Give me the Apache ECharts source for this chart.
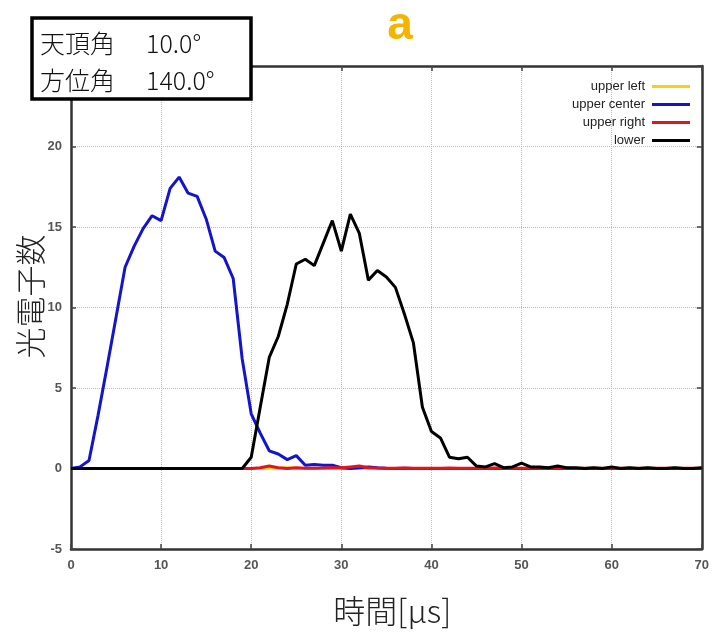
<!DOCTYPE html>
<html><head><meta charset="utf-8">
<script src="https://cdn.jsdelivr.net/npm/echarts@6/dist/echarts.min.js"></script>
<style>html,body{margin:0;padding:0;background:#fff}#c{width:712px;height:635px}</style>
</head><body><div id="c"></div>
<script>
const time = Array.from({length:71},(_,i)=>i);
const upperLeft = [0,0,0,0,0,0,0,0,0,0, 0,0,0,0,0,0,0,0,0,0, 0,0,0.02,0.03,0.05,0.02,0,0,0,0, 0,0,0,0,0,0,0,0,0,0, 0,0,0,0,0,0,0,0,0,0, 0,0,0,0,0,0,0,0,0,0, 0,0,0,0,0,0,0,0,0,0, 0];
const upperCenter = [0,0.1,0.5,3.3,6.3,9.4,12.5,13.8,14.9,15.7, 15.4,17.4,18.1,17.1,16.9,15.5,13.5,13.1,11.8,6.8, 3.4,2.2,1.1,0.9,0.55,0.8,0.2,0.25,0.2,0.2, 0.05,0,0.05,0.1,0.05,0.02,0,0.02,0,0, 0,0,0,0,0,0,0,0,0,0, 0,0,0,0,0,0,0,0,0,0, 0,0,0,0,0,0,0,0,0,0, 0];
const upperRight = [0,0,0,0,0,0,0,0,0,0, 0,0,0,0,0,0,0,0,0,0, 0,0.05,0.15,0.05,0,0.05,0.02,0.02,0.03,0.05, 0.05,0.1,0.15,0.05,0.03,0.02,0.02,0.03,0.02,0.02, 0.02,0.02,0.03,0.02,0.02,0.02,0.02,0.03,0.02,0.02, 0.02,0.02,0.02,0.02,0.02,0.02,0.02,0.02,0.02,0.02, 0.02,0.02,0.02,0.02,0.02,0.02,0.02,0.02,0.02,0.02, 0.02];
const lower = [0,0,0,0,0,0,0,0,0,0, 0,0,0,0,0,0,0,0,0,0, 0.7,3.8,6.9,8.2,10.2,12.7,13.0,12.6,14.0,15.4, 13.5,15.8,14.6,11.7,12.3,11.9,11.25,9.6,7.8,3.8, 2.3,1.9,0.7,0.6,0.7,0.15,0.1,0.3,0.05,0.1, 0.33,0.1,0.1,0.05,0.15,0.05,0.05,0,0.05,0, 0.1,0,0.05,0,0.05,0,0,0.05,0,0, 0.05];
const seriesNames = ['upper left','upper center','upper right','lower'];
const seriesColors = ['#f2d01c','#1414cc','#e3141c','#000000'];
const seriesValues = [upperLeft, upperCenter, upperRight, lower];
const xTicks = [0,10,20,30,40,50,60,70];
const yTicks = [-5,0,5,10,15,20,25];

const chart = echarts.init(document.getElementById('c'));
const axisFont = {fontFamily:'Liberation Sans, Arial, sans-serif', fontSize:13, fontWeight:'bold', color:'#555'};
const jpFont = '"Noto Sans CJK JP", sans-serif';
const frame = {show:true, onZero:false, lineStyle:{color:'#333', width:2.5}};
const ticks = {show:true, inside:true, length:5, lineStyle:{color:'#444', width:1.5}};
chart.setOption({
  animation:false,
  backgroundColor:'#fff',
  grid:{left:71, right:9, top:66, bottom:86},
  legend:{
    data:seriesNames, orient:'vertical', align:'right', right:17, top:75,
    itemWidth:38, itemHeight:3, itemGap:5, icon:'rect',
    textStyle:{fontFamily:'Liberation Sans, Arial, sans-serif', fontSize:13, color:'#222', padding:[0,2,0,0]}
  },
  xAxis:[{
    type:'value', min:xTicks[0], max:xTicks[xTicks.length-1], interval:10, position:'bottom',
    name:'時間[μs]', nameLocation:'middle', nameGap:46,
    nameTextStyle:{fontFamily:jpFont, fontSize:32, fontWeight:300, color:'#222', padding:[0,0,0,12]},
    axisLine:frame, axisTick:ticks,
    axisLabel:Object.assign({margin:10}, axisFont),
    splitLine:{show:true, lineStyle:{type:'dotted', color:'#bbb'}}
  },{
    type:'value', min:xTicks[0], max:xTicks[xTicks.length-1], interval:10, position:'top',
    axisLine:frame, axisTick:ticks,
    axisLabel:{show:false}, splitLine:{show:false}
  }],
  yAxis:[{
    type:'value', min:yTicks[0], max:yTicks[yTicks.length-1], interval:5, position:'left',
    name:'光電子数', nameLocation:'middle', nameGap:25, nameRotate:90, nameMoveOverlap:false,
    nameTextStyle:{fontFamily:jpFont, fontSize:31, fontWeight:300, color:'#222', padding:[0,0,0,22]},
    axisLine:frame, axisTick:ticks,
    axisLabel:Object.assign({margin:9}, axisFont),
    splitLine:{show:true, lineStyle:{type:'dotted', color:'#bbb'}}
  },{
    type:'value', min:yTicks[0], max:yTicks[yTicks.length-1], interval:5, position:'right',
    axisLine:frame, axisTick:ticks,
    axisLabel:{show:false}, splitLine:{show:false}
  }],
  series: seriesNames.map((n,k)=>({
    name:n, type:'line', showSymbol:false, symbol:'none',
    data: time.map((t,i)=>[t, seriesValues[k][i]]),
    lineStyle:{color:seriesColors[k], width:3}, itemStyle:{color:seriesColors[k]},
    z: 2+k
  })),
  graphic:[
    {type:'text', x:400, y:26, z:100, style:{text:'a', fill:'#f5b400', font:'bold 46px "Liberation Sans", Arial, sans-serif', textAlign:'center', textVerticalAlign:'middle'}},
    {type:'rect', z:100, shape:{x:32, y:18, width:219, height:81}, style:{fill:'#fff', stroke:'#000', lineWidth:3.5}},
    {type:'text', z:101, x:40, y:43, style:{text:'天頂角', fill:'#111', font:'300 25px "Noto Sans CJK JP", sans-serif', textVerticalAlign:'middle'}},
    {type:'text', z:101, x:146, y:43, style:{text:'10.0°', fill:'#111', font:'300 25px "Noto Sans CJK JP", sans-serif', textVerticalAlign:'middle'}},
    {type:'text', z:101, x:40, y:80, style:{text:'方位角', fill:'#111', font:'300 25px "Noto Sans CJK JP", sans-serif', textVerticalAlign:'middle'}},
    {type:'text', z:101, x:146, y:80, style:{text:'140.0°', fill:'#111', font:'300 25px "Noto Sans CJK JP", sans-serif', textVerticalAlign:'middle'}}
  ]
});
</script></body></html>
